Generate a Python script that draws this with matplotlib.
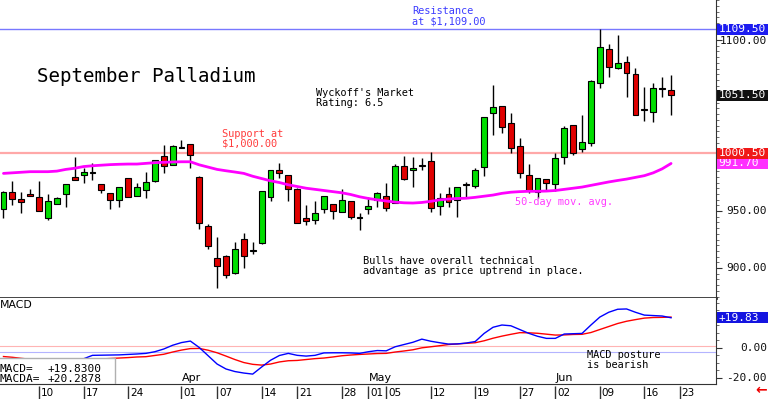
import matplotlib
matplotlib.use("Agg")
import matplotlib.pyplot as plt
import numpy as np
from matplotlib.patches import Rectangle
from matplotlib.ticker import FixedLocator, MultipleLocator, NullFormatter

MONO = "DejaVu Sans Mono"
SANS = "DejaVu Sans"

# daily candles, 4 Mar .. 20 Jun (trading-day index on x)
OPEN = [951.5, 966.7, 960.3, 964.3, 962.3, 943.6, 956.1, 964.6, 980.1, 981.3,
        983.4, 973.4, 965.8, 959.4, 978.7, 963.2, 968.4, 976.3, 998.2, 990.1,
        1006.2, 1008.8, 980.1, 937.1, 909.0, 910.8, 895.4, 925.4, 914.5, 921.7,
        962.5, 986.0, 981.6, 969.6, 944.1, 942.1, 951.8, 956.1, 949.4, 959.0,
        944.0, 951.8, 959.6, 963.2, 957.3, 989.7, 986.0, 990.6, 994.1, 954.4,
        964.7, 959.6, 973.6, 971.9, 988.3, 1035.7, 1042.1, 1027.0, 1007.0, 981.6,
        967.0, 978.0, 973.7, 997.6, 1025.4, 1004.1, 1009.9, 1062.0, 1092.1, 1075.2,
        1081.0, 1069.9, 1038.8, 1036.6, 1057.9, 1056.1]
HIGH = [967.5, 976.6, 966.9, 969.0, 976.3, 964.6, 962.0, 973.4, 997.6, 988.0,
        991.8, 973.4, 966.0, 970.8, 978.7, 975.0, 983.9, 995.0, 1007.9, 1007.5,
        1012.3, 1009.0, 980.3, 938.6, 927.5, 911.0, 923.1, 930.4, 923.1, 967.5,
        986.2, 991.8, 981.8, 969.8, 955.3, 959.0, 963.4, 956.3, 969.0, 959.2,
        948.0, 962.5, 967.0, 974.3, 991.2, 998.5, 997.1, 996.2, 1002.0, 966.0,
        971.3, 971.5, 975.7, 988.0, 1032.9, 1060.5, 1042.3, 1035.7, 1014.3, 991.2,
        979.0, 978.2, 1000.6, 1024.6, 1025.6, 1034.2, 1065.0, 1109.5, 1096.5, 1104.4,
        1086.0, 1075.2, 1059.0, 1062.0, 1067.3, 1069.3]
LOW = [943.6, 955.0, 948.5, 963.4, 950.0, 942.1, 956.0, 953.8, 977.0, 974.3,
       977.2, 965.5, 951.5, 953.2, 962.5, 963.2, 961.1, 975.5, 983.6, 990.0,
       1005.0, 988.0, 934.0, 916.4, 882.2, 891.5, 895.0, 899.7, 912.3, 921.5,
       959.0, 978.7, 959.0, 939.7, 937.7, 938.6, 948.0, 942.7, 949.2, 942.7,
       933.3, 947.4, 953.8, 950.3, 957.1, 977.5, 971.3, 986.0, 949.4, 946.5,
       953.2, 945.0, 962.5, 969.9, 980.7, 1016.7, 1018.2, 1000.6, 978.7, 965.5,
       961.1, 968.4, 967.8, 991.2, 999.1, 1002.0, 1007.0, 1058.2, 1067.3, 1075.0,
       1049.7, 1034.0, 1029.2, 1028.3, 1049.7, 1034.2]
CLOSE = [966.9, 960.8, 958.0, 963.6, 950.3, 958.8, 961.7, 973.4, 977.2, 983.9,
         983.8, 968.4, 959.4, 970.8, 962.5, 970.8, 975.7, 994.7, 989.5, 1007.3,
         1005.5, 999.1, 939.2, 919.6, 901.8, 893.9, 916.7, 910.8, 916.0, 967.3,
         986.0, 983.6, 969.0, 939.9, 941.5, 948.0, 963.4, 950.0, 959.6, 944.5,
         944.8, 954.7, 965.5, 952.4, 989.5, 977.8, 988.0, 989.8, 952.4, 961.7,
         957.6, 971.3, 973.2, 986.0, 1032.7, 1041.0, 1024.0, 1005.5, 983.1, 968.4,
         978.7, 974.8, 996.2, 1023.1, 1001.1, 1010.8, 1064.0, 1094.1, 1076.6, 1080.1,
         1070.8, 1034.2, 1038.4, 1058.2, 1056.8, 1051.5]
MA50 = [983.0, 983.5, 984.0, 984.5, 984.5, 984.5, 985.0, 986.5, 987.5, 989.0,
        989.7, 990.2, 990.7, 991.0, 991.2, 991.2, 991.8, 992.4, 992.7, 993.0,
        993.2, 993.2, 990.5, 988.5, 986.5, 985.3, 984.2, 983.0, 980.5, 978.5,
        976.5, 975.0, 973.0, 971.5, 970.0, 969.0, 968.0, 967.0, 966.0, 964.5,
        962.5, 961.0, 959.8, 958.8, 957.8, 957.2, 957.0, 957.5, 958.5, 959.8,
        960.5, 961.0, 961.2, 962.0, 963.0, 964.0, 965.5, 966.5, 967.0, 967.3,
        967.3, 967.5, 968.0, 969.0, 970.0, 971.0, 972.5, 974.0, 975.5, 976.8,
        978.0, 979.5, 981.0, 983.5, 987.0, 991.7]
MACD = [-9.0, -10.0, -11.0, -11.5, -12.0, -12.5, -12.0, -10.5, -8.5, -7.5,
        -5.2, -5.1, -5.0, -4.9, -4.6, -4.3, -3.9, -2.8, -1.0, 1.5,
        3.3, 4.3, 0.0, -5.5, -11.0, -14.3, -16.0, -17.0, -17.7, -13.0,
        -8.5, -5.3, -3.9, -5.2, -5.7, -5.2, -3.6, -3.5, -3.5, -3.6,
        -3.9, -2.8, -2.0, -2.2, 0.5, 2.0, 3.5, 5.6, 4.2, 3.2,
        2.3, 2.4, 3.0, 4.0, 9.4, 13.5, 15.0, 14.5, 12.0, 9.5,
        7.5, 6.1, 6.1, 9.0, 9.2, 9.4, 15.0, 20.3, 23.5, 25.5,
        25.7, 23.5, 21.6, 21.3, 21.0, 19.83]
SIGNAL = [-6.0, -6.5, -7.2, -7.8, -8.3, -8.8, -9.0, -8.9, -8.6, -8.3,
          -7.9, -7.6, -7.3, -7.0, -6.7, -6.3, -6.1, -5.3, -4.5, -3.0,
          -1.7, -0.7, -0.6, -1.8, -3.5, -5.7, -8.0, -10.0, -11.2, -11.7,
          -11.0, -9.6, -8.8, -8.6, -8.0, -7.4, -7.0, -6.3, -5.5, -5.0,
          -4.6, -4.3, -4.0, -3.9, -3.0, -2.3, -1.5, -0.2, 0.5, 1.2,
          2.0, 2.4, 2.8, 3.2, 4.5, 6.2, 7.6, 8.8, 9.9, 9.8,
          9.5, 8.9, 8.3, 8.4, 8.7, 8.8, 10.0, 12.0, 14.0, 16.0,
          17.5, 18.6, 19.6, 20.0, 20.1, 20.2878]

RESISTANCE = 1109.5
SUPPORT = 1000.5

TICK_IDX = [4, 9, 14, 20, 24, 29, 33, 38, 41, 43, 48, 53, 58, 62, 67, 72, 76]
TICK_LABELS = ["10", "17", "24", "01", "07", "14", "21", "28", "01", "05",
               "12", "19", "27", "02", "09", "16", "23"]
MONTH_IDX = [20, 41, 62]
MONTH_LABELS = ["Apr", "May", "Jun"]

W, H = 768, 399
PLOT_W = 716
XLIM = (-0.39, 80.05)


def rect(x0, y0, x1, y1):
    return [x0 / W, 1 - y1 / H, (x1 - x0) / W, (y1 - y0) / H]


def tag(ax, value, text, bg, half, z=6):
    trans = ax.get_yaxis_transform()
    ax.add_patch(Rectangle((1.0 + 1 / PLOT_W, value - half), 52 / PLOT_W, 2 * half,
                           transform=trans, facecolor=bg, edgecolor="none",
                           clip_on=False, zorder=z))
    ax.text(1.0 + 2.5 / PLOT_W, value, text, transform=trans, ha="left", va="center",
            color="white", fontsize=8.0, family=MONO, clip_on=False, zorder=z + 0.1)


def right_label(ax, value, text):
    ax.text(767 / PLOT_W, value, text, transform=ax.get_yaxis_transform(),
            ha="right", va="center", fontsize=8.0, family=MONO, color="#111111",
            clip_on=False)


def style_right_axis(ax, majors, minor):
    for side in ("top", "left", "bottom"):
        ax.spines[side].set_visible(False)
    ax.spines["right"].set_color("#333333")
    ax.yaxis.tick_right()
    ax.yaxis.set_major_locator(FixedLocator(majors))
    ax.yaxis.set_minor_locator(MultipleLocator(minor))
    ax.yaxis.set_major_formatter(NullFormatter())
    ax.tick_params(axis="y", which="major", length=4, color="#333333")
    ax.tick_params(axis="y", which="minor", length=2, color="#555555")
    ax.set_xticks([])
    ax.set_xlim(*XLIM)


def plot_price(ax):
    x = np.arange(len(OPEN))
    o, h, l, c = (np.asarray(a) for a in (OPEN, HIGH, LOW, CLOSE))
    up = c >= o
    ax.vlines(x, l, h, color="black", lw=1.0, zorder=3)
    body = np.maximum(np.abs(c - o), 0.9)
    colors = np.where(up, "#00dd00", "#e00000")
    ax.bar(x, body, width=0.66, bottom=np.minimum(o, c), color=colors,
           edgecolor="black", linewidth=0.8, zorder=4)
    ax.plot(x, MA50, color="#ff00ff", lw=2.0, zorder=5, solid_capstyle="round")
    ax.axhline(RESISTANCE, color="#7878ff", lw=1.0, zorder=1)
    ax.axhline(SUPPORT, color="#ffa8a8", lw=1.6, zorder=1)

    ax.set_ylim(873.7, 1135.1)
    style_right_axis(ax, [900, 950, 1000, 1050, 1100], 5)
    ax.spines["bottom"].set_visible(True)
    ax.spines["bottom"].set_color("#333333")
    ax.spines["bottom"].set_linewidth(2.0)

    for v in (900, 950):
        right_label(ax, v, f"{v:.2f}")
    right_label(ax, 1099, "1100.00")
    tag(ax, RESISTANCE, f"{RESISTANCE:.2f}", "#1c1cf0", 4.8)
    tag(ax, CLOSE[-1], f"{CLOSE[-1]:.2f}", "#111111", 5.0)
    tag(ax, MA50[-1], f"{MA50[-1]:.2f}", "#ff30ff", 4.6, z=6)
    tag(ax, SUPPORT, f"{SUPPORT:.2f}", "#f01818", 4.8, z=7)

    def fx(px):
        return px / PLOT_W

    def fy(py):
        return 1 - py / 298

    t = ax.transAxes
    ax.text(fx(37), fy(77), "September Palladium", transform=t, family=MONO,
            fontsize=13.8, va="center", ha="left", color="black")
    ax.text(fx(316), fy(88), "Wyckoff's Market\nRating: 6.5", transform=t,
            family=MONO, fontsize=7.4, va="top", linespacing=1.0)
    ax.text(fx(412), fy(6), "Resistance\nat $1,109.00", transform=t,
            family=MONO, fontsize=7.4, va="top", color="#3c3cff", linespacing=1.0)
    ax.text(fx(222), fy(129), "Support at\n$1,000.00", transform=t,
            family=MONO, fontsize=7.4, va="top", color="#ff3c3c", linespacing=1.0)
    ax.text(fx(515), fy(202), "50-day mov. avg.", transform=t,
            family=MONO, fontsize=7.4, va="center", color="#ff3cff")
    ax.text(fx(363), fy(256),
            "Bulls have overall technical\nadvantage as price uptrend in place.",
            transform=t, family=MONO, fontsize=7.4, va="top", linespacing=1.0)


def plot_macd(ax):
    x = np.arange(len(MACD))
    ax.axhline(1.3, color="#ffb4b4", lw=0.8, zorder=1)
    ax.axhline(-2.7, color="#b4b4ff", lw=0.8, zorder=1)
    ax.plot(x, SIGNAL, color="#ff0000", lw=1.0, zorder=3)
    ax.plot(x, MACD, color="#0000ff", lw=1.0, zorder=4)
    ax.set_ylim(-24.3, 33.0)
    style_right_axis(ax, [-20, 0, 20], 5)
    ax.spines["bottom"].set_visible(True)
    ax.spines["bottom"].set_color("#333333")

    right_label(ax, 0, "0.00")
    right_label(ax, -20, "-20.00")
    tag(ax, SIGNAL[-1], f"{SIGNAL[-1]:+.2f}", "#f01818", 3.6, z=6)
    tag(ax, MACD[-1], f"{MACD[-1]:+.2f}", "#1414e0", 3.6, z=7)

    t = ax.transAxes
    ax.text(0.0, 0.975, "MACD", transform=t, family=SANS, fontsize=7.8, va="top")
    ax.text(587 / PLOT_W, 1 - (350 - 298) / 86, "MACD posture\nis bearish",
            transform=t, family=MONO, fontsize=7.4, va="top", linespacing=1.0)

    ax.add_patch(Rectangle((-0.01, 0), 0.01 + 115 / PLOT_W, 26 / 86, transform=t,
                           facecolor="white", edgecolor="#b0b0b0", lw=1.0, zorder=8))
    ax.text(-1 / PLOT_W, 15 / 86, "MACD=", transform=t, family=MONO, fontsize=8,
            va="center", zorder=9)
    ax.text(48 / PLOT_W, 15 / 86, f"{MACD[-1]:+.4f}", transform=t, family=MONO,
            fontsize=8, va="center", zorder=9)
    ax.text(-1 / PLOT_W, 5 / 86, "MACDA=", transform=t, family=MONO, fontsize=8,
            va="center", zorder=9)
    ax.text(48 / PLOT_W, 5 / 86, f"{SIGNAL[-1]:+.4f}", transform=t, family=MONO,
            fontsize=8, va="center", zorder=9)

    bt = ax.get_xaxis_transform()
    for i, name in zip(MONTH_IDX, MONTH_LABELS):
        ax.text(i, 0.01, name, transform=bt, family=SANS, fontsize=8,
                ha="left", va="bottom", zorder=2)


def plot_dates(ax):
    ax.set_xlim(*XLIM)
    ax.set_ylim(0, 1)
    ax.axis("off")
    ax.vlines(TICK_IDX, 0, 0.9, color="#333333", lw=1.0)
    for i, lab in zip(TICK_IDX, TICK_LABELS):
        ax.text(i + 0.2, 0.42, lab, family=SANS, fontsize=7.5, ha="left", va="center",
                clip_on=False)


def main():
    fig = plt.figure(figsize=(W / 100, H / 100), dpi=100)
    fig.patch.set_facecolor("white")
    ax = fig.add_axes(rect(0, 0, PLOT_W, 298))
    mx = fig.add_axes(rect(0, 298, PLOT_W, 384))
    dx = fig.add_axes(rect(0, 384, PLOT_W, 399))
    plot_price(ax)
    plot_macd(mx)
    plot_dates(dx)
    fig.text(767 / W, 2 / H, "\u2190", color="#ee0000", fontsize=10,
             weight="bold", ha="right", va="bottom")
    fig.savefig("out.png", dpi=100, facecolor="white")
    plt.close(fig)


if __name__ == "__main__":
    main()
